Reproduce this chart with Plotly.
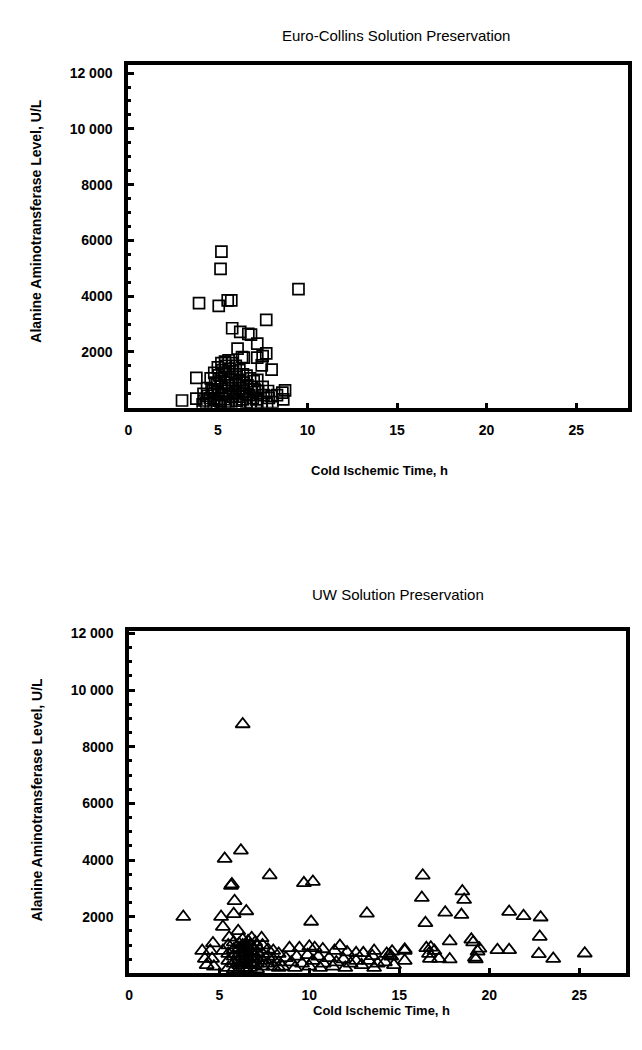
import plotly.graph_objects as go

# Euro-Collins solution: cold ischemic time (h) vs ALT (U/L)
ec_time = [5.2, 5.15, 9.5, 3.95, 5.05, 5.55, 5.75, 7.7, 5.8, 6.25, 6.7, 6.85, 7.2, 6.1,
           6.35, 6.45, 7.2, 7.5, 7.7, 7.45, 8.0, 3.8, 3.0, 3.8,
           4.2, 4.25, 4.15, 4.4, 4.45, 4.35, 4.6, 4.65, 4.55, 4.6,
           4.8, 4.85, 4.75, 4.8, 5.0, 5.05, 4.95, 5.0, 5.05, 4.95,
           5.2, 5.25, 5.15, 5.2, 5.25, 5.15, 5.4, 5.45, 5.35, 5.4, 5.45, 5.35, 5.4,
           5.6, 5.65, 5.55, 5.6, 5.65, 5.55, 5.8, 5.85, 5.75, 5.8, 5.85, 5.75,
           6.0, 6.05, 5.95, 6.0, 6.05, 6.2, 6.25, 6.15, 6.2, 6.25,
           6.4, 6.45, 6.35, 6.4, 6.6, 6.65, 6.55, 6.6, 6.8, 6.85, 6.75, 6.8,
           7.0, 7.05, 6.95, 7.2, 7.25, 7.15, 7.2, 7.5, 7.55, 7.45, 7.8, 7.85, 7.75,
           8.0, 8.05, 8.3, 8.6, 8.65, 8.75]
ec_alt = [5600, 4980, 4250, 3750, 3650, 3850, 3850, 3150, 2850, 2720, 2650, 2620, 2300, 2120,
          1820, 1800, 1800, 1850, 1950, 1520, 1370, 1070, 260, 330,
          500, 260, 120, 700, 430, 180, 1050, 660, 350, 150,
          1250, 900, 610, 300, 1450, 1160, 850, 560, 250, 100,
          1600, 1350, 1050, 760, 450, 200, 1650, 1500, 1210, 900, 600, 310, 120,
          1700, 1400, 1100, 800, 500, 220, 1600, 1300, 1000, 700, 400, 150,
          1500, 1200, 860, 550, 250, 1350, 1000, 700, 400, 150,
          1200, 900, 600, 300, 1150, 800, 500, 200, 1050, 750, 450, 180,
          950, 650, 350, 1000, 600, 300, 120, 750, 450, 200, 600, 350, 150,
          420, 200, 450, 540, 300, 620]

# UW solution
uw_time = [3.0, 5.3, 6.2, 7.8, 5.65, 5.7, 9.7, 10.2, 5.85, 5.1, 5.8, 6.5, 5.2, 10.1, 13.2,
           6.05, 5.55, 4.65, 6.3,
           16.3, 16.25, 16.45, 18.5, 18.6, 17.55, 18.45, 21.1, 21.9, 22.85, 22.8, 17.8,
           19.0, 19.1, 19.45, 19.35, 20.45, 21.1, 16.5, 16.75, 16.95, 16.65, 15.3, 14.45,
           14.55, 13.5, 22.75, 23.55, 25.3, 16.7, 17.2, 17.8, 15.3, 19.2, 19.25,
           4.05, 4.5, 5.2, 4.2, 4.6, 4.3, 4.7,
           6.8, 7.35, 6.6, 7.0, 6.3,
           5.5, 5.5, 5.5, 5.5, 5.8, 5.8, 5.8, 5.8, 5.8,
           6.1, 6.1, 6.1, 6.1, 6.1, 6.1, 6.3, 6.3, 6.3, 6.3, 6.3,
           6.5, 6.5, 6.5, 6.5, 6.5, 6.7, 6.7, 6.7, 6.7, 6.7,
           6.9, 6.9, 6.9, 6.9, 7.1, 7.1, 7.1, 7.1, 7.1,
           7.4, 7.4, 7.4, 7.4, 7.7, 7.7, 7.7, 8.0, 8.0, 8.0, 8.3, 8.3, 8.3,
           8.9, 9.45, 10.0, 10.3, 10.75, 11.7, 11.4, 12.1, 12.6, 13.0, 13.6, 14.3, 14.6, 15.3,
           8.7, 9.0, 9.3, 9.6, 9.9, 10.2, 10.5, 10.8, 11.1, 11.5, 11.9, 12.3, 12.6, 12.9,
           13.3, 13.8, 14.2, 14.7, 8.5, 9.2, 10.0, 10.6, 11.3, 12.0, 13.6]
uw_alt = [2000, 4050, 4340, 3470, 3100, 3150, 3190, 3240, 2560, 2000, 2100, 2200, 1650, 1830, 2120,
          1500, 1270, 1070, 8800,
          3460, 2670, 1780, 2900, 2600, 2150, 2070, 2180, 2030, 1980, 1300, 1140,
          1200, 1100, 880, 780, 830, 830, 900, 920, 800, 700, 800, 650,
          600, 620, 690, 520, 710, 520, 520, 500, 450, 560, 500,
          800, 800, 800, 520, 520, 300, 250,
          1250, 1250, 1150, 1100, 1200,
          1000, 700, 450, 200, 1100, 850, 600, 350, 150,
          1050, 900, 700, 500, 300, 150, 1000, 800, 600, 400, 200,
          950, 750, 550, 350, 150, 1000, 800, 600, 400, 200,
          900, 700, 500, 300, 950, 750, 550, 350, 150,
          1000, 700, 450, 250, 850, 600, 350, 800, 500, 250, 700, 400, 200,
          900, 900, 950, 900, 860, 980, 800, 750, 720, 720, 800, 700, 780, 850,
          550, 400, 600, 350, 650, 450, 600, 350, 550, 400, 500, 350, 450, 300,
          450, 350, 400, 300, 250, 200, 250, 200, 250, 200, 200]

x_ticks = [0, 5, 10, 15, 20, 25]
y_ticks = [2000, 4000, 6000, 8000, 10000, 12000]
y_labels = ["2000", "4000", "6000", "8000", "10 000", "12 000"]

W, H = 642, 1050
FONT = "Liberation Sans"


def px_x(p):
    return p / W


def px_y(p):
    return 1 - p / H


fig = go.Figure()
fig.add_trace(go.Scatter(x=ec_time, y=ec_alt, mode="markers", xaxis="x", yaxis="y",
                         marker=dict(symbol="square-open", size=11, color="black",
                                     line=dict(width=1.7, color="black")),
                         showlegend=False))
fig.add_trace(go.Scatter(x=uw_time, y=uw_alt, mode="markers", xaxis="x2", yaxis="y2",
                         marker=dict(symbol="triangle-up-open", size=12.5, color="black",
                                     line=dict(width=1.8, color="black")),
                         showlegend=False))

tick_font = dict(family=FONT, size=14, color="black", weight="bold")
xcommon = dict(tickvals=x_ticks, ticks="inside", ticklen=5, tickwidth=3,
               tickcolor="black", showline=True, linewidth=4, linecolor="black", mirror=True,
               showgrid=False, zeroline=False, ticklabelstandoff=6, tickfont=tick_font)
ycommon = dict(tickvals=y_ticks, ticktext=y_labels, ticks="inside",
               ticklen=6, tickwidth=3, tickcolor="black", showline=True, linewidth=4,
               linecolor="black", mirror=True, showgrid=False, zeroline=False,
               ticklabelstandoff=9,
               minor=dict(dtick=500, ticks="inside", ticklen=3, tickwidth=3, tickcolor="black"),
               tickfont=tick_font)

fig.update_layout(
    width=W, height=H,
    margin=dict(l=0, r=0, t=0, b=0),
    paper_bgcolor="white", plot_bgcolor="white",
    xaxis=dict(domain=[px_x(117), px_x(620)], anchor="y", range=[0, 27.9], **xcommon),
    yaxis=dict(domain=[px_y(396), px_y(51)], anchor="x", range=[0, 12300], **ycommon),
    xaxis2=dict(domain=[px_x(118), px_x(618)], anchor="y2", range=[0, 27.6], **xcommon),
    yaxis2=dict(domain=[px_y(965), px_y(621)], anchor="x2", range=[0, 12070], **ycommon),
)

title_font = dict(family=FONT, size=15, color="black")
xlab_font = dict(family=FONT, size=13, color="black", weight="bold")
ylab_font = dict(family=FONT, size=14, color="black", weight="bold")
texts = [
    ("Euro-Collins Solution Preservation", 386, 22, 0, title_font),
    ("Cold Ischemic Time, h", 370, 459, 0, xlab_font),
    ("Alanine Aminotransferase Level, U/L", 24, 208, -90, ylab_font),
    ("UW Solution Preservation", 388, 584, 0, title_font),
    ("Cold Ischemic Time, h", 372, 1002, 0, xlab_font),
    ("Alanine Aminotransferase Level, U/L", 26, 790, -90, ylab_font),
]
for txt, x, y, ang, f in texts:
    fig.add_annotation(text=txt, x=px_x(x), y=px_y(y), xref="paper", yref="paper",
                       showarrow=False, textangle=ang, font=f,
                       xanchor="center", yanchor="middle")

fig.write_html("out.html")
